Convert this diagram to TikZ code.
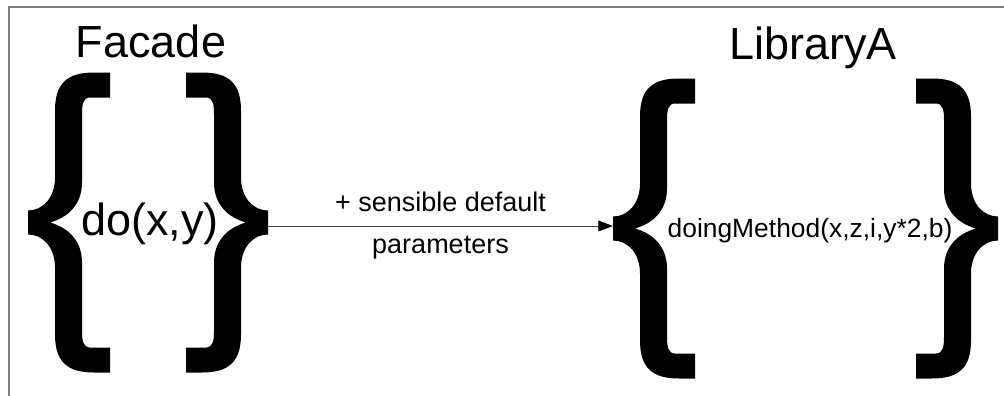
\documentclass[tikz,border=0pt]{standalone}
\usepackage{fontspec}
\setmainfont{Liberation Sans}
\usepackage{tikz}
\usetikzlibrary{arrows.meta}

\tikzset{
  curly/.pic={
    \fill (82,-150) -- (82,-125) -- (62,-125) .. controls (55,-125) and (54,-118) .. (54,-108) -- (54,-40) .. controls (54,-18) and (40,-5) .. (22,0) .. controls (40,5) and (54,18) .. (54,40) -- (54,108) .. controls (54,118) and (55,125) .. (62,125) -- (82,125) -- (82,150) -- (66,150) .. controls (40,150) and (27,140) .. (27,112) -- (27,45) .. controls (27,25) and (15,12) .. (0,12) -- (0,-12) .. controls (15,-12) and (27,-25) .. (27,-45) -- (27,-112) .. controls (27,-140) and (40,-150) .. (66,-150) -- cycle;
  },
  bigtext/.style={font=\fontsize{33.75}{40}\selectfont, inner sep=0pt},
  smalltext/.style={font=\fontsize{19.8}{24}\selectfont, inner sep=0pt},
  edgetext/.style={font=\fontsize{20.25}{31.5}\selectfont, align=center, inner sep=0pt, text=black}
}

\begin{document}
\begin{tikzpicture}[x=0.75pt,y=0.75pt,yscale=-1,xscale=1]
\useasboundingbox (0,0) rectangle (1004,396);

%Frame
\draw [color={rgb,255:red,128;green,128;blue,128}, line width=1.5] (8.5,396) -- (8.5,6.5) -- (1004,6.5);

%Shape: Braces Facade
\pic at (28,222.5) {curly};
\pic [xscale=-1] at (268,222.5) {curly};
%Shape: Braces LibraryA
\pic at (613,228.5) {curly};
\pic [xscale=-1] at (998,228.5) {curly};

% Text Node
\node (facade) [bigtext, anchor=base] at (151,57) {Facade};
% Text Node
\node (libraryA) [bigtext, anchor=base] at (813,60) {LibraryA};
% Text Node
\node (doCall) [bigtext, anchor=base] at (150,235) {do(x,y)};
% Text Node
\node (doingCall) [smalltext, anchor=base] at (810,237) {doingMethod(x,z,i,y*2,b)};

\coordinate (facadeOut) at (268,226);
\coordinate (libraryIn) at (613,226);

%Straight Lines
\draw [color={rgb,255:red,64;green,64;blue,64}, line width=0.75, -{Triangle[length=11pt,width=8pt,color=black]}] (facadeOut) -- (libraryIn)
  node (defaults) [edgetext, midway] {+ sensible default\\parameters};

\end{tikzpicture}
\end{document}
